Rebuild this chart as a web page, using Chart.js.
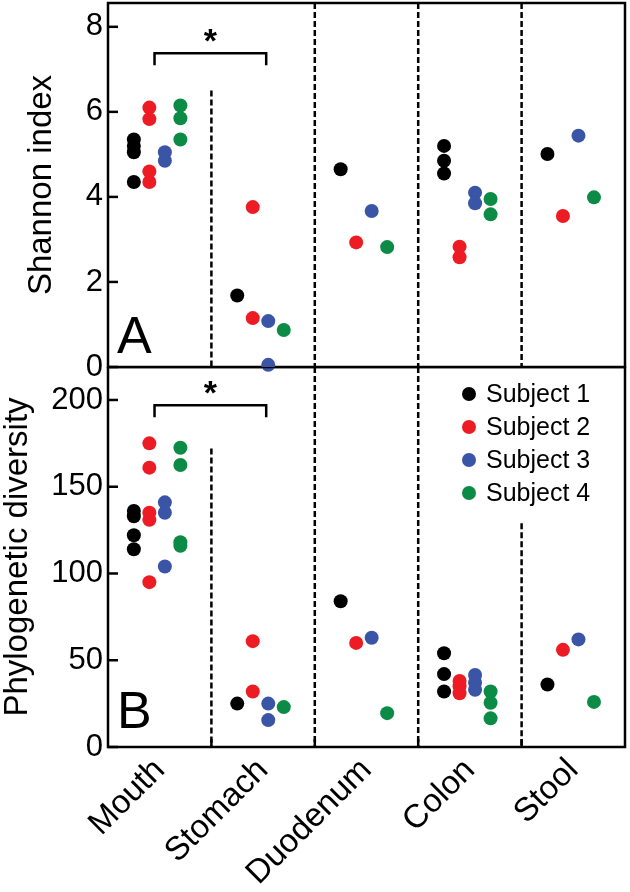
<!DOCTYPE html>
<html>
<head>
<meta charset="utf-8">
<script src="https://cdn.jsdelivr.net/npm/chart.js@4.4.0/dist/chart.umd.min.js"></script>
<style>
  html, body { margin: 0; padding: 0; background: #fff; }
  #wrap { position: relative; width: 630px; height: 892px; }
  canvas { position: absolute; left: 0; }
  #chart-a { top: 0; }
  #chart-b { top: 367px; }
</style>
</head>
<body>
<div id="wrap">
  <canvas id="chart-a" width="630" height="385"></canvas>
  <canvas id="chart-b" width="630" height="525"></canvas>
</div>
<script>
const categories = ["Mouth", "Stomach", "Duodenum", "Colon", "Stool"];
const subjects = ["Subject 1", "Subject 2", "Subject 3", "Subject 4"];
const subjectColors = ["#000000", "#ed1c24", "#3a55a5", "#0b8b45"];
// horizontal spread of the subjects inside one category (category units)
const subjectOffsets = [-0.25, -0.1, 0.05, 0.2];

// Shannon index: one list per category (Mouth, Stomach, Duodenum, Colon, Stool)
const shannonS1 = [[5.35, 5.2, 5.05, 4.35], [1.68], [4.65], [5.2, 4.85, 4.55], [5.01]];
const shannonS2 = [[6.1, 5.83, 4.6, 4.35], [3.76, 1.15], [2.93], [2.83, 2.58], [3.55]];
const shannonS3 = [[5.05, 4.85], [1.08, 0.05], [3.67], [4.1, 3.85], [5.44]];
const shannonS4 = [[6.15, 5.85, 5.35], [0.87], [2.82], [3.95, 3.59], [3.99]];
const shannonTicks = [0, 2, 4, 6, 8];

// Phylogenetic diversity
const pdS1 = [[136, 133, 122, 114], [25], [84], [54, 42, 32], [36]];
const pdS2 = [[175, 161, 135, 131, 95], [61, 32], [60], [38, 35, 31], [56]];
const pdS3 = [[141, 135, 104], [25, 15.5], [63], [41.5, 37, 33], [62]];
const pdS4 = [[172.5, 162.5, 118, 116], [23], [19.5], [32, 25.5, 16.5], [26]];
const pdTicks = [0, 50, 100, 150, 200];

const FONT = "'Liberation Sans', Arial, sans-serif";

function buildDatasets(series) {
    return series.map((perCat, s) => ({
        label: subjects[s],
        data: perCat.flatMap((vals, c) => vals.map(v => ({ x: c + 0.5 + subjectOffsets[s], y: v }))),
        backgroundColor: subjectColors[s],
        borderWidth: 0,
        pointRadius: 7,
        pointHoverRadius: 7,
        showLine: false,
        clip: false,
    }));
}

// frame, dashed separators, inward ticks, bracket, panel letter, legend
const panelDecor = {
    id: "panelDecor",
    beforeDatasetsDraw(chart, args, opts) {
        const { ctx, chartArea: a, scales } = chart;
        const x = scales.x, y = scales.y;
        ctx.save();
        ctx.strokeStyle = "#000";
        ctx.lineWidth = 2.5;
        ctx.strokeRect(a.left, a.top, a.right - a.left, a.bottom - a.top);

        // inward y ticks
        y.ticks.forEach(t => {
            const py = y.getPixelForValue(t.value);
            ctx.beginPath();
            ctx.moveTo(a.left, py);
            ctx.lineTo(a.left + 10, py);
            ctx.stroke();
        });
        // inward x ticks at category borders
        if (opts.xTicks) {
            for (let i = 1; i < categories.length; i++) {
                const px = x.getPixelForValue(i);
                ctx.beginPath();
                ctx.moveTo(px, a.bottom);
                ctx.lineTo(px, a.bottom - 8);
                ctx.stroke();
            }
        }

        // dashed category separators
        ctx.setLineDash([6, 3]);
        opts.dividerTops.forEach((top, i) => {
            const px = x.getPixelForValue(i + 1);
            const py = top == null ? a.top : y.getPixelForValue(top);
            ctx.beginPath();
            ctx.moveTo(px, py);
            ctx.lineTo(px, a.bottom);
            ctx.stroke();
        });
        ctx.setLineDash([]);

        // significance bracket
        const b = opts.bracket;
        const bx1 = x.getPixelForValue(b.x1), bx2 = x.getPixelForValue(b.x2);
        const by = y.getPixelForValue(b.y);
        ctx.beginPath();
        ctx.moveTo(bx1, by + 12);
        ctx.lineTo(bx1, by);
        ctx.lineTo(bx2, by);
        ctx.lineTo(bx2, by + 12);
        ctx.stroke();
        ctx.fillStyle = "#000";
        ctx.font = "bold 34px " + FONT;
        ctx.textAlign = "center";
        ctx.textBaseline = "alphabetic";
        ctx.fillText("*", (bx1 + bx2) / 2, by - 1);

        // panel letter
        ctx.font = "52px " + FONT;
        ctx.textAlign = "left";
        ctx.fillText(opts.letter, a.left + 9, a.bottom - opts.letterLift);

        // legend
        if (opts.legend) {
            ctx.font = "25px " + FONT;
            ctx.textBaseline = "middle";
            subjects.forEach((name, i) => {
                const ly = a.top + 27 + i * 33;
                const lx = a.right - 156;
                ctx.fillStyle = subjectColors[i];
                ctx.beginPath();
                ctx.arc(lx, ly, 7, 0, Math.PI * 2);
                ctx.fill();
                ctx.fillStyle = "#000";
                ctx.fillText(name, lx + 17, ly + 1);
            });
        }
        ctx.restore();
    }
};

function noPad(s) {
    s.paddingTop = 0;
    s.paddingBottom = 0;
    s.paddingLeft = 0;
    s.paddingRight = 0;
}

function yAxis(title, ticks, max, padLeft) {
    return {
        type: "linear",
        min: 0,
        max: max,
        grid: { display: false, drawTicks: false },
        border: { display: false },
        afterBuildTicks: s => { s.ticks = ticks.map(v => ({ value: v })); },
        afterFit: s => { s.width = 108 - padLeft; noPad(s); },
        ticks: { color: "#000", padding: 5, font: { size: 31, family: FONT } },
        title: { display: true, text: title, color: "#000", padding: 0, font: { size: 33, family: FONT, lineHeight: 1 } },
    };
}

new Chart(document.getElementById("chart-a"), {
    type: "scatter",
    data: { datasets: buildDatasets([shannonS1, shannonS2, shannonS3, shannonS4]) },
    options: {
        responsive: false,
        animation: false,
        devicePixelRatio: 1,
        layout: { autoPadding: false, padding: { left: 25, right: 5, top: 3, bottom: 18 } },
        scales: {
            x: { type: "linear", min: 0, max: 5, display: false },
            y: yAxis("Shannon index", shannonTicks, 8.56, 25),
        },
        plugins: {
            legend: { display: false },
            tooltip: { enabled: false },
            panelDecor: {
                dividerTops: [6.5, null, null, null],
                bracket: { x1: 0.45, x2: 1.53, y: 7.38 },
                letter: "A",
                letterLift: 14,
                xTicks: false,
                legend: false,
            },
        },
    },
    plugins: [panelDecor],
});

new Chart(document.getElementById("chart-b"), {
    type: "scatter",
    data: { datasets: buildDatasets([pdS1, pdS2, pdS3, pdS4]) },
    options: {
        responsive: false,
        animation: false,
        devicePixelRatio: 1,
        layout: { autoPadding: false, padding: { left: 1, right: 5, top: 0, bottom: 0 } },
        scales: {
            x: {
                type: "linear",
                min: 0,
                max: 5,
                grid: { display: false, drawTicks: false },
                border: { display: false },
                afterBuildTicks: s => { s.ticks = categories.map((c, i) => ({ value: i + 0.5 })); },
                afterFit: s => { s.height = 145; noPad(s); },
                ticks: {
                    autoSkip: false,
                    minRotation: 45,
                    maxRotation: 45,
                    padding: 4,
                    color: "#000",
                    font: { size: 33, family: FONT },
                    callback: (v, i) => categories[i],
                },
            },
            y: yAxis("Phylogenetic diversity", pdTicks, 219, 1),
        },
        plugins: {
            legend: { display: false },
            tooltip: { enabled: false },
            panelDecor: {
                dividerTops: [172, null, null, 129],
                bracket: { x1: 0.45, x2: 1.53, y: 197 },
                letter: "B",
                letterLift: 19,
                xTicks: true,
                legend: true,
            },
        },
    },
    plugins: [panelDecor],
});
</script>
</body>
</html>
